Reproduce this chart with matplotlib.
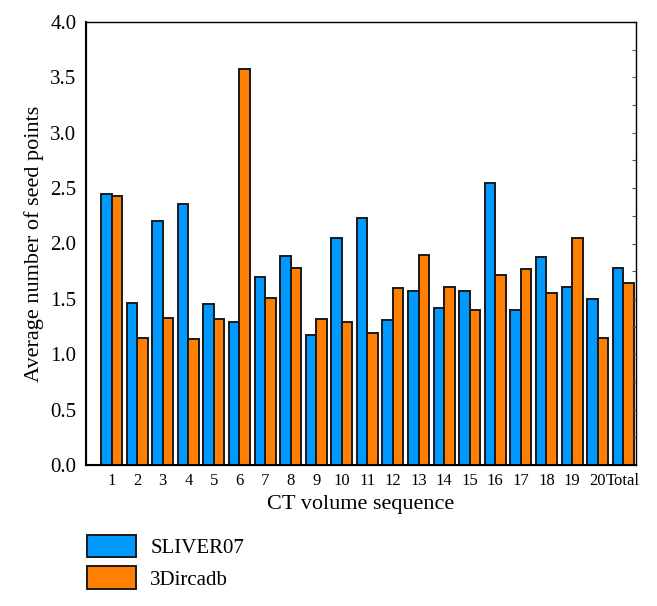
import numpy as np
import matplotlib.pyplot as plt
from matplotlib.ticker import MultipleLocator

plt.rcParams['font.family'] = ['Liberation Serif', 'DejaVu Serif']

labels = [str(i) for i in range(1, 21)] + ["Total"]
sliver07 = [2.45, 1.46, 2.20, 2.36, 1.45, 1.29, 1.70, 1.89, 1.17, 2.05, 2.23,
            1.31, 1.57, 1.42, 1.57, 2.55, 1.40, 1.88, 1.61, 1.50, 1.78]
dircadb = [2.43, 1.15, 1.33, 1.14, 1.32, 3.58, 1.51, 1.78, 1.32, 1.29, 1.19,
           1.60, 1.90, 1.61, 1.40, 1.72, 1.77, 1.55, 2.05, 1.15, 1.64]

x = np.arange(len(labels))
w = 0.41

fig = plt.figure(figsize=(6.57, 6.06), dpi=100)
ax = fig.add_axes([86/657, 1 - 465/606, 550/657, 443/606])

b1 = ax.bar(x - w/2, sliver07, w, color="#0099ff", edgecolor="#1a1a1a", linewidth=1.4, label="SLIVER07")
b2 = ax.bar(x + w/2, dircadb, w, color="#ff8000", edgecolor="#1a1a1a", linewidth=1.4, label="3Dircadb")

ax.set_xlim(-1.0, 20.5)
ax.set_ylim(0, 4.0)
ax.set_yticks(np.arange(0, 4.01, 0.5))
ax.set_yticklabels([f"{v:.1f}" for v in np.arange(0, 4.01, 0.5)], fontsize=15)
ax.set_xticks(x)
ax.set_xticklabels(labels, fontsize=12)
ax.tick_params(axis='x', length=0, pad=6)
ax.tick_params(axis='y', left=False, length=0, pad=7)

# small inward ticks on the right spine
ax2 = ax.twinx()
ax2.set_ylim(0, 4.0)
ax2.yaxis.set_major_locator(MultipleLocator(0.25))
ax2.tick_params(axis='y', direction='in', length=3, labelright=False, color="#555555")

for s in ["left", "bottom"]:
    ax.spines[s].set_linewidth(1.5)
for s in ["top", "right"]:
    ax.spines[s].set_linewidth(1.0)
    ax.spines[s].set_color("#333333")

ax.set_ylabel("Average number of seed points", fontsize=16, labelpad=4)
ax.set_xlabel("CT volume sequence", fontsize=16, labelpad=4)

fig.legend(handles=[b1, b2], loc="upper left", bbox_to_anchor=(68/657, 1 - 516/606),
           frameon=False, fontsize=15, handlelength=2.35, handleheight=1.3,
           labelspacing=0.4, handletextpad=0.7)

fig.savefig("out.png", dpi=100)
